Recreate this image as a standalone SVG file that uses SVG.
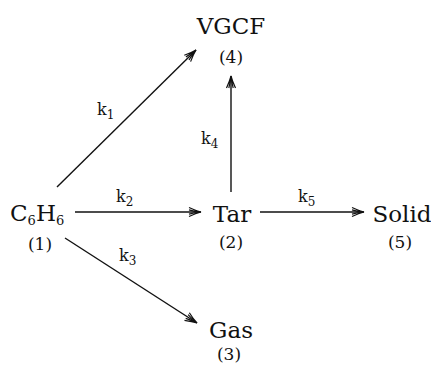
<svg xmlns="http://www.w3.org/2000/svg" width="431" height="365" viewBox="0 0 431 365">
<defs>
<style>
text{font-family:'DejaVu Serif','Liberation Serif',serif;fill:#111}
.m{font-size:23px}
.n{font-size:17px}
.sub{font-size:13px}
.k{font-size:16px}
.s{font-size:12px}
.c{stroke:#111;stroke-width:1.4;fill:none}
</style>
<marker id="ah" markerUnits="userSpaceOnUse" markerWidth="16" markerHeight="12" viewBox="-13 -6 15 12" refX="0" refY="0" orient="auto">
<path d="M-12,-4.5 Q-5,-1.2 0,0 Q-5,1.2 -12,4.5 M-12,-2.2 Q-6,-0.5 0,0 Q-6,0.5 -12,2.2" stroke="#111" stroke-width="1.2" fill="none"/>
</marker>
</defs>
<rect width="431" height="365" fill="#fff"/>
<g id="connectors">
<line class="c" x1="57" y1="187" x2="196" y2="50" marker-end="url(#ah)"/>
<line class="c" x1="75" y1="212" x2="201" y2="212" marker-end="url(#ah)"/>
<line class="c" x1="65" y1="238" x2="197" y2="323" marker-end="url(#ah)"/>
<line class="c" x1="231" y1="192" x2="231" y2="76" marker-end="url(#ah)"/>
<line class="c" x1="260" y1="212" x2="364" y2="212" marker-end="url(#ah)"/>
<text class="k" x="97" y="115">k<tspan class="s" dy="4">1</tspan></text>
<text class="k" x="116" y="202">k<tspan class="s" dy="4">2</tspan></text>
<text class="k" x="119" y="261">k<tspan class="s" dy="4">3</tspan></text>
<text class="k" x="201" y="144">k<tspan class="s" dy="4">4</tspan></text>
<text class="k" x="298" y="202">k<tspan class="s" dy="4">5</tspan></text>
</g>
<g id="n1">
<text class="m" x="10" y="221">C<tspan class="sub" dy="4">6</tspan><tspan dy="-4">H</tspan><tspan class="sub" dy="4">6</tspan></text>
<text class="n" x="40" y="250" text-anchor="middle">(1)</text>
</g>
<g id="n2">
<text class="m" x="232" y="222" text-anchor="middle">Tar</text>
<text class="n" x="231" y="248" text-anchor="middle">(2)</text>
</g>
<g id="n3">
<text class="m" x="231" y="338" text-anchor="middle">Gas</text>
<text class="n" x="229" y="360" text-anchor="middle">(3)</text>
</g>
<g id="n4">
<text class="m" x="231" y="34" text-anchor="middle">VGCF</text>
<text class="n" x="231" y="63" text-anchor="middle">(4)</text>
</g>
<g id="n5">
<text class="m" x="402" y="222" text-anchor="middle">Solid</text>
<text class="n" x="400" y="248" text-anchor="middle">(5)</text>
</g>
</svg>
